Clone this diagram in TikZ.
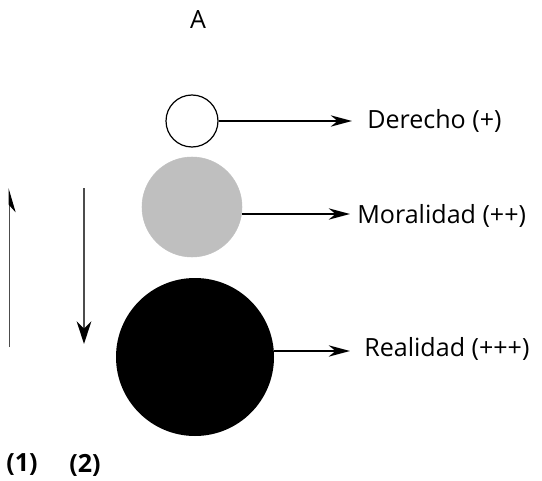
\documentclass[tikz,border=0pt]{standalone}
\usepackage{fontspec}
\setmainfont{Open Sans}
\usetikzlibrary{arrows.meta}
\begin{document}
\begin{tikzpicture}[x=0.75pt,y=-0.75pt,
  txt/.style={font=\fontsize{18.8}{22}\selectfont, inner sep=0pt},
  lbl/.style={txt, anchor=west},
  num/.style={txt, font=\bfseries\fontsize{18.8}{22}\selectfont},
  conn/.style={line width=1.6pt, -{Stealth[length=16pt,width=8.5pt]}},
  ball/.style={circle, inner sep=0pt}]
\useasboundingbox (0,0) rectangle (542,481);
\node[txt] (A) at (198,20) {A};
\node[ball, draw=black, line width=0.9pt, fill=white, minimum size=39pt] (c1) at (192,121) {};
\node[ball, fill=black!25, draw=black!25, minimum size=75pt] (c2) at (192,207) {};
\node[ball, fill=black, minimum size=118.5pt] (c3) at (195,357) {};
\node[lbl] (t1) at (367,121) {Derecho (+)};
\node[lbl] (t2) at (357,216) {Moralidad (++)};
\node[lbl] (t3) at (364,349) {Realidad (+++)};
\coordinate (e1) at (352,121);
\coordinate (e2) at (350,214);
\coordinate (e3) at (350,351);
\draw[conn] (c1.east) -- (e1);
\draw[conn] (c2.east |- e2) -- (e2);
\draw[conn] (c3.east |- e3) -- (e3);
\coordinate (u0) at (9,347);
\coordinate (u1) at (9,188);
\coordinate (d0) at (84,188);
\coordinate (d1) at (84,344);
\draw[black!70, line width=0.75pt, -{Stealth[right, length=17pt, width=10pt, black]}] (u0) -- (u1);
\draw[black!70, line width=1.5pt, -{Stealth[length=17pt, width=11pt, black]}] (d0) -- (d1);
\node[num] (n1) at (22,465) {(1)};
\node[num] (n2) at (85,465) {(2)};
\end{tikzpicture}
\end{document}
